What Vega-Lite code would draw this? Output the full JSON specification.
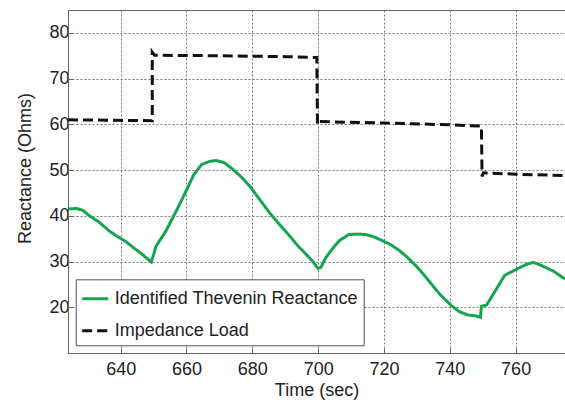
{
  "$schema": "https://vega.github.io/schema/vega-lite/v6.json",
  "autosize": {"type": "none"},
  "padding": {"left": 68, "top": 10, "right": 0, "bottom": 49},
  "width": 497,
  "height": 343,
  "background": "white",
  "config": {
    "view": {"stroke": "#666", "strokeWidth": 1},
    "font": "Liberation Sans",
    "axis": {
      "labelFont": "Liberation Sans",
      "titleFont": "Liberation Sans",
      "labelFontSize": 18,
      "titleFontSize": 18,
      "labelColor": "#222",
      "titleColor": "#222",
      "titleFontWeight": "normal",
      "domainColor": "#666",
      "tickColor": "#666",
      "tickSize": -5,
      "grid": true,
      "gridColor": "#777",
      "gridOpacity": 1,
      "gridDash": [2, 2],
      "gridWidth": 1
    }
  },
  "data": {
    "values": [
      {"s": "Identified Thevenin Reactance", "i": 1, "t": 624.1, "v": 41.5},
      {"s": "Identified Thevenin Reactance", "i": 2, "t": 626.6, "v": 41.6},
      {"s": "Identified Thevenin Reactance", "i": 3, "t": 628.5, "v": 41.2},
      {"s": "Identified Thevenin Reactance", "i": 4, "t": 630.5, "v": 40.0},
      {"s": "Identified Thevenin Reactance", "i": 5, "t": 633.5, "v": 38.6},
      {"s": "Identified Thevenin Reactance", "i": 6, "t": 636.5, "v": 36.7},
      {"s": "Identified Thevenin Reactance", "i": 7, "t": 638.5, "v": 35.7},
      {"s": "Identified Thevenin Reactance", "i": 8, "t": 641.5, "v": 34.4},
      {"s": "Identified Thevenin Reactance", "i": 9, "t": 643.6, "v": 33.2},
      {"s": "Identified Thevenin Reactance", "i": 10, "t": 646.5, "v": 31.6},
      {"s": "Identified Thevenin Reactance", "i": 11, "t": 649.3, "v": 29.9},
      {"s": "Identified Thevenin Reactance", "i": 12, "t": 650.0, "v": 31.5},
      {"s": "Identified Thevenin Reactance", "i": 13, "t": 650.7, "v": 33.3},
      {"s": "Identified Thevenin Reactance", "i": 14, "t": 653.7, "v": 36.6},
      {"s": "Identified Thevenin Reactance", "i": 16, "t": 657.7, "v": 42.2},
      {"s": "Identified Thevenin Reactance", "i": 17, "t": 660.0, "v": 45.6},
      {"s": "Identified Thevenin Reactance", "i": 18, "t": 662.2, "v": 49.0},
      {"s": "Identified Thevenin Reactance", "i": 19, "t": 664.6, "v": 51.2},
      {"s": "Identified Thevenin Reactance", "i": 20, "t": 667.0, "v": 51.9},
      {"s": "Identified Thevenin Reactance", "i": 21, "t": 669.0, "v": 52.1},
      {"s": "Identified Thevenin Reactance", "i": 22, "t": 671.5, "v": 51.6},
      {"s": "Identified Thevenin Reactance", "i": 23, "t": 674.0, "v": 50.2},
      {"s": "Identified Thevenin Reactance", "i": 24, "t": 676.5, "v": 48.6},
      {"s": "Identified Thevenin Reactance", "i": 25, "t": 679.1, "v": 46.6},
      {"s": "Identified Thevenin Reactance", "i": 26, "t": 682.0, "v": 43.8},
      {"s": "Identified Thevenin Reactance", "i": 27, "t": 685.1, "v": 40.8},
      {"s": "Identified Thevenin Reactance", "i": 28, "t": 688.0, "v": 38.3},
      {"s": "Identified Thevenin Reactance", "i": 29, "t": 691.2, "v": 35.7},
      {"s": "Identified Thevenin Reactance", "i": 30, "t": 694.0, "v": 33.3},
      {"s": "Identified Thevenin Reactance", "i": 31, "t": 696.2, "v": 31.7},
      {"s": "Identified Thevenin Reactance", "i": 32, "t": 698.5, "v": 29.9},
      {"s": "Identified Thevenin Reactance", "i": 33, "t": 699.9, "v": 28.5},
      {"s": "Identified Thevenin Reactance", "i": 34, "t": 700.8, "v": 28.7},
      {"s": "Identified Thevenin Reactance", "i": 35, "t": 702.3, "v": 30.8},
      {"s": "Identified Thevenin Reactance", "i": 36, "t": 704.3, "v": 32.8},
      {"s": "Identified Thevenin Reactance", "i": 37, "t": 706.5, "v": 34.6},
      {"s": "Identified Thevenin Reactance", "i": 38, "t": 709.3, "v": 35.9},
      {"s": "Identified Thevenin Reactance", "i": 39, "t": 712.0, "v": 36.0},
      {"s": "Identified Thevenin Reactance", "i": 40, "t": 714.4, "v": 35.9},
      {"s": "Identified Thevenin Reactance", "i": 41, "t": 717.0, "v": 35.4},
      {"s": "Identified Thevenin Reactance", "i": 42, "t": 719.4, "v": 34.6},
      {"s": "Identified Thevenin Reactance", "i": 43, "t": 722.0, "v": 33.7},
      {"s": "Identified Thevenin Reactance", "i": 44, "t": 724.5, "v": 32.5},
      {"s": "Identified Thevenin Reactance", "i": 45, "t": 727.0, "v": 31.0},
      {"s": "Identified Thevenin Reactance", "i": 46, "t": 729.5, "v": 29.2},
      {"s": "Identified Thevenin Reactance", "i": 47, "t": 732.0, "v": 27.2},
      {"s": "Identified Thevenin Reactance", "i": 48, "t": 734.5, "v": 25.0},
      {"s": "Identified Thevenin Reactance", "i": 49, "t": 737.0, "v": 22.8},
      {"s": "Identified Thevenin Reactance", "i": 50, "t": 740.6, "v": 20.3},
      {"s": "Identified Thevenin Reactance", "i": 51, "t": 743.0, "v": 19.0},
      {"s": "Identified Thevenin Reactance", "i": 52, "t": 745.6, "v": 18.3},
      {"s": "Identified Thevenin Reactance", "i": 53, "t": 748.0, "v": 18.1},
      {"s": "Identified Thevenin Reactance", "i": 54, "t": 749.3, "v": 17.8},
      {"s": "Identified Thevenin Reactance", "i": 55, "t": 749.6, "v": 20.2},
      {"s": "Identified Thevenin Reactance", "i": 56, "t": 751.2, "v": 20.5},
      {"s": "Identified Thevenin Reactance", "i": 57, "t": 754.0, "v": 23.8},
      {"s": "Identified Thevenin Reactance", "i": 58, "t": 756.7, "v": 27.0},
      {"s": "Identified Thevenin Reactance", "i": 59, "t": 760.8, "v": 28.5},
      {"s": "Identified Thevenin Reactance", "i": 60, "t": 763.0, "v": 29.3},
      {"s": "Identified Thevenin Reactance", "i": 61, "t": 765.3, "v": 29.8},
      {"s": "Identified Thevenin Reactance", "i": 62, "t": 767.0, "v": 29.4},
      {"s": "Identified Thevenin Reactance", "i": 63, "t": 768.8, "v": 28.8},
      {"s": "Identified Thevenin Reactance", "i": 64, "t": 771.5, "v": 27.9},
      {"s": "Identified Thevenin Reactance", "i": 65, "t": 773.9, "v": 26.7},
      {"s": "Identified Thevenin Reactance", "i": 66, "t": 775.0, "v": 26.2},
      {"s": "Impedance Load", "i": 101, "t": 624.0, "v": 61.0},
      {"s": "Impedance Load", "i": 102, "t": 636.0, "v": 60.9},
      {"s": "Impedance Load", "i": 103, "t": 649.6, "v": 60.8},
      {"s": "Impedance Load", "i": 104, "t": 649.6, "v": 75.8},
      {"s": "Impedance Load", "i": 105, "t": 650.3, "v": 75.1},
      {"s": "Impedance Load", "i": 106, "t": 670.0, "v": 75.0},
      {"s": "Impedance Load", "i": 107, "t": 690.0, "v": 74.8},
      {"s": "Impedance Load", "i": 108, "t": 699.6, "v": 74.6},
      {"s": "Impedance Load", "i": 109, "t": 699.8, "v": 60.0},
      {"s": "Impedance Load", "i": 110, "t": 700.2, "v": 60.6},
      {"s": "Impedance Load", "i": 111, "t": 720.0, "v": 60.3},
      {"s": "Impedance Load", "i": 112, "t": 740.0, "v": 59.9},
      {"s": "Impedance Load", "i": 113, "t": 749.6, "v": 59.6},
      {"s": "Impedance Load", "i": 114, "t": 749.8, "v": 48.6},
      {"s": "Impedance Load", "i": 115, "t": 750.2, "v": 49.4},
      {"s": "Impedance Load", "i": 116, "t": 760.0, "v": 49.1},
      {"s": "Impedance Load", "i": 117, "t": 775.0, "v": 48.8}
    ]
  },
  "mark": {"type": "line", "strokeWidth": 3, "clip": true, "strokeJoin": "miter"},
  "encoding": {
    "x": {
      "field": "t", "type": "quantitative",
      "scale": {"domain": [624, 775], "nice": false, "zero": false},
      "axis": {"title": "Time (sec)", "grid": true, "values": [640, 660, 680, 700, 720, 740, 760], "labelPadding": 12, "titleY": 37, "titleBaseline": "middle"}
    },
    "y": {
      "field": "v", "type": "quantitative",
      "scale": {"domain": [10, 85], "nice": false, "zero": false},
      "axis": {"title": "Reactance (Ohms)", "grid": true, "values": [20, 30, 40, 50, 60, 70, 80], "labelPadding": 4, "titleX": -43, "titleY": 158, "titleBaseline": "middle"}
    },
    "color": {
      "field": "s", "type": "nominal",
      "scale": {"domain": ["Identified Thevenin Reactance", "Impedance Load"], "range": ["#16a54f", "#111111"]},
      "legend": {
        "title": null, "orient": "none", "legendX": 7.7, "legendY": 269.3,
        "direction": "vertical", "fillColor": "white", "strokeColor": "#555",
        "padding": 5, "symbolType": "stroke", "symbolSize": 676, "symbolStrokeWidth": 3,
        "labelFontSize": 18, "labelFont": "Liberation Sans", "labelColor": "#222",
        "labelOffset": 5, "labelLimit": 400, "rowPadding": 8
      }
    },
    "strokeDash": {
      "field": "s", "type": "nominal",
      "scale": {"domain": ["Identified Thevenin Reactance", "Impedance Load"], "range": [[1, 0], [10, 5]]},
      "legend": {
        "title": null, "orient": "none", "legendX": 7.7, "legendY": 269.3,
        "direction": "vertical", "fillColor": "white", "strokeColor": "#555",
        "padding": 5, "symbolType": "stroke", "symbolSize": 676, "symbolStrokeWidth": 3,
        "labelFontSize": 18, "labelFont": "Liberation Sans", "labelColor": "#222",
        "labelOffset": 5, "labelLimit": 400, "rowPadding": 8
      }
    },
    "order": {"field": "i", "type": "quantitative"}
  }
}
